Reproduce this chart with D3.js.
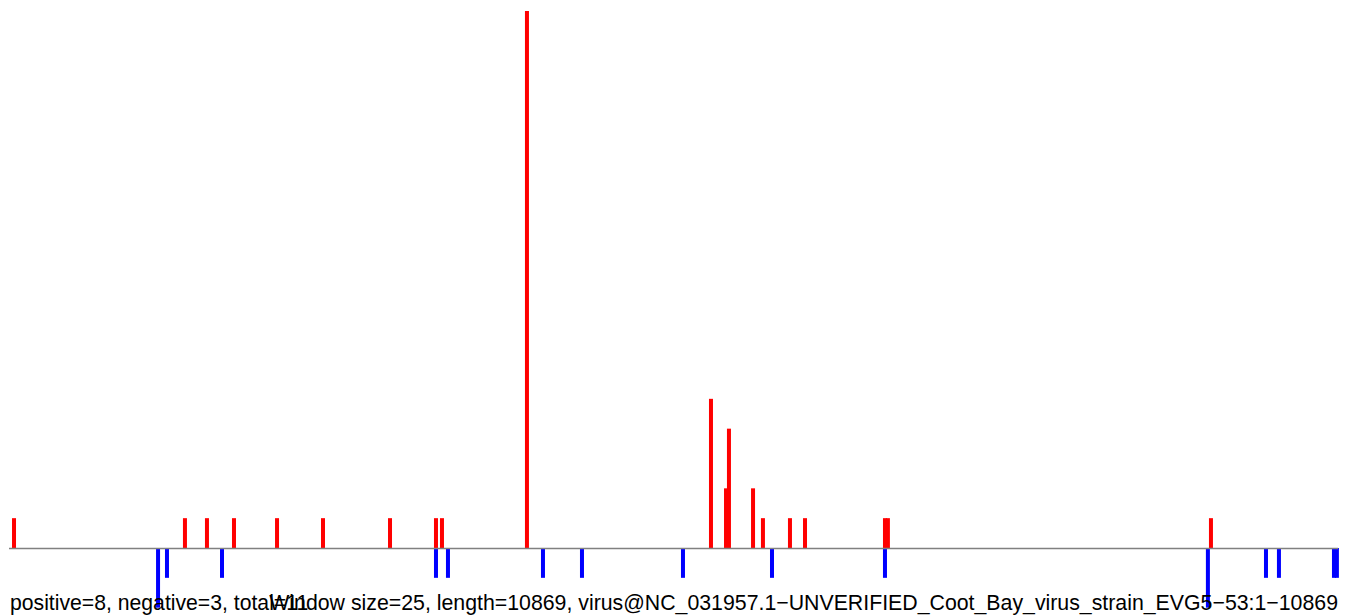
<!DOCTYPE html>
<html>
<head>
<meta charset="utf-8">
<script src="https://cdn.jsdelivr.net/npm/d3@7"></script>
<style>
html,body{margin:0;padding:0;background:#fff;}
svg{display:block;}
</style>
</head>
<body>
<svg id="chart" width="1355" height="615"></svg>
<script>
// genome length and window
const genomeLength = 10869;
const windowSize = 25;

// positive-strand hits (upward, red): position (nt) and count
const posPositions = [41, 1439, 1619, 1840, 2192, 2568, 3116, 3492, 3541, 4236, 5741, 5864, 5888, 6085, 6166, 6387, 6510, 7164, 7188, 9830];
const posCounts    = [1,  1,    1,    1,    1,    1,    1,    1,    1,    18,   5,    2,    4,    2,    1,    1,    1,    1,    1,    1];

// negative-strand hits (downward, blue)
const negPositions = [1219, 1292, 1742, 3492, 3590, 4367, 4686, 5512, 6240, 7164, 9805, 10280, 10386, 10836, 10860];
const negCounts    = [2,    1,    1,    1,    1,    1,    1,    1,    1,    1,    2,    1,     1,     1,     1];

const leftLabel = "positive=8, negative=3, total=11";
const rightLabel = "Window size=25, length=10869, virus@NC_031957.1\u2212UNVERIFIED_Coot_Bay_virus_strain_EVG5\u221253:1\u221210869";

const svg = d3.select("#chart");
const x = d3.scaleLinear().domain([0, genomeLength]).range([9, 1338]);
const y = d3.scaleLinear().domain([0, 18]).range([548, 11]);
const barW = 4;

const posData = posPositions.map((p, i) => ({p, c: posCounts[i]}));
const negData = negPositions.map((p, i) => ({p, c: negCounts[i]}));

svg.append("g").selectAll("rect").data(posData).join("rect")
  .attr("x", d => x(d.p) - barW / 2)
  .attr("y", d => y(d.c))
  .attr("width", barW)
  .attr("height", d => y(0) - y(d.c))
  .attr("fill", "#ff0000");

svg.append("g").selectAll("rect").data(negData).join("rect")
  .attr("x", d => x(d.p) - barW / 2)
  .attr("y", y(0))
  .attr("width", barW)
  .attr("height", d => y(-d.c) - y(0))
  .attr("fill", "#0000ff");

svg.append("line")
  .attr("x1", x(0)).attr("x2", x(genomeLength))
  .attr("y1", y(0) + 0.5).attr("y2", y(0) + 0.5)
  .attr("stroke", "#808080").attr("stroke-width", 1.3);

svg.append("text")
  .attr("x", 10).attr("y", 610)
  .attr("font-family", "Liberation Sans, Arial, sans-serif")
  .attr("font-size", 21.2)
  .attr("fill", "#000")
  .text(leftLabel);

svg.append("text")
  .attr("x", 1338).attr("y", 610)
  .attr("text-anchor", "end")
  .attr("font-family", "Liberation Sans, Arial, sans-serif")
  .attr("font-size", 21.3)
  .attr("fill", "#000")
  .text(rightLabel);
</script>
</body>
</html>
